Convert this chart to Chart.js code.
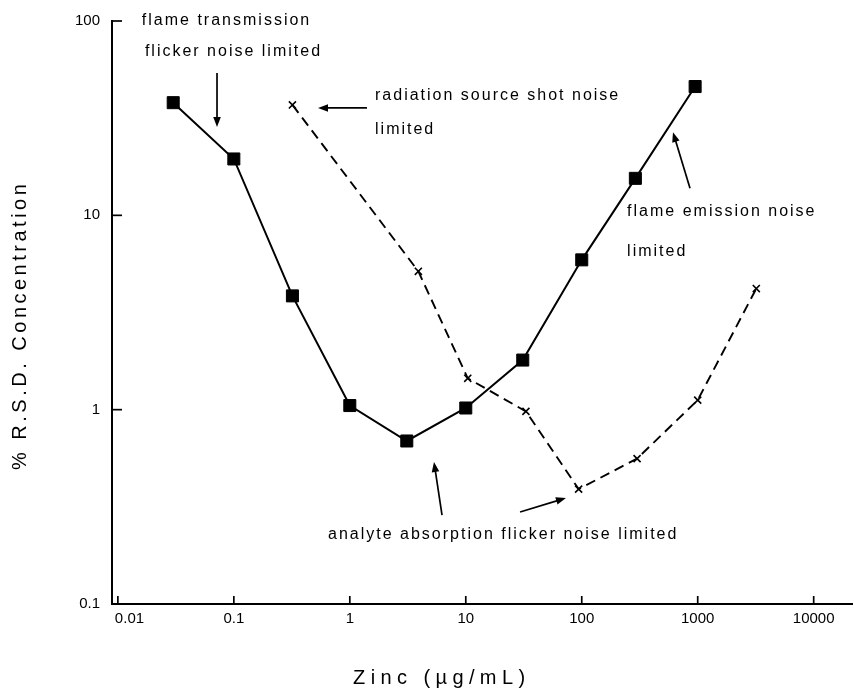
<!DOCTYPE html>
<html>
<head>
<meta charset="utf-8">
<script src="https://cdn.jsdelivr.net/npm/chart.js@4.4.1/dist/chart.umd.min.js"></script>
<style>
  html, body { margin: 0; padding: 0; background: #fff; }
  #wrap { width: 854px; height: 693px; }
</style>
</head>
<body>
<div id="wrap"><canvas id="rsd" width="854" height="693"></canvas></div>
<script>
// Zinc concentration (µg/mL) and relative standard deviation (%)
const zincSquares = [0.03, 0.1, 0.32, 1, 3.1, 10, 31, 100, 290, 950];
const rsdSquares  = [38, 19.5, 3.85, 1.05, 0.69, 1.02, 1.8, 5.9, 15.5, 46];
const zincCrosses = [0.32, 3.9, 10.4, 33, 94, 300, 1000, 3200];
const rsdCrosses  = [37, 5.15, 1.45, 0.98, 0.39, 0.56, 1.12, 4.2];

const xTickValues = [0.01, 0.1, 1, 10, 100, 1000, 10000];
const xTickLabels = ['0.01', '0.1', '1', '10', '100', '1000', '10000'];
const yTickValues = [0.1, 1, 10, 100];
const yTickLabels = ['0.1', '1', '10', '100'];

const xTitle = 'Zinc (\u00b5g/mL)';
const yTitle = '% R.S.D. Concentration';

// Callout texts, anchored in data units (left edge, vertical middle)
const notes = [
  { text: 'flame transmission',          x: 0.0161, y: 101 },
  { text: 'flicker noise limited',       x: 0.0171, y: 69.3 },
  { text: 'radiation source shot noise', x: 1.65,   y: 41.1 },
  { text: 'limited',                     x: 1.65,   y: 27.5 },
  { text: 'flame emission noise',        x: 246,    y: 10.4 },
  { text: 'limited',                     x: 246,    y: 6.48 },
  { text: 'analyte absorption flicker noise limited', x: 0.649, y: 0.2265 }
];

// Pointer arrows, tail -> head, in data units
const arrows = [
  { from: [0.0716, 54.0], to: [0.0716, 28.5] },
  { from: [1.406, 35.7],  to: [0.532, 35.7] },
  { from: [858, 13.8],    to: [612, 26.8] },
  { from: [6.24, 0.287],  to: [5.32, 0.538] },
  { from: [29.4, 0.2975], to: [73.1, 0.351] }
];

const FONT = '"Liberation Sans", Arial, sans-serif';

function spacedText(ctx, text, x, y, spacing, align) {
  const chars = Array.from(text);
  const widths = chars.map(c => ctx.measureText(c).width);
  const total = widths.reduce((a, b) => a + b, 0) + spacing * (chars.length - 1);
  let cx = x;
  if (align === 'center') cx = x - total / 2;
  else if (align === 'right') cx = x - total;
  const saved = ctx.textAlign;
  ctx.textAlign = 'left';
  chars.forEach((c, i) => { ctx.fillText(c, cx, y); cx += widths[i] + spacing; });
  ctx.textAlign = saved;
}

function arrow(ctx, x1, y1, x2, y2) {
  const ang = Math.atan2(y2 - y1, x2 - x1);
  const len = 10, half = 3.8;
  ctx.beginPath();
  ctx.moveTo(x1, y1);
  ctx.lineTo(x2 - Math.cos(ang) * (len - 2), y2 - Math.sin(ang) * (len - 2));
  ctx.stroke();
  ctx.beginPath();
  ctx.moveTo(x2, y2);
  ctx.lineTo(x2 - Math.cos(ang) * len - Math.sin(ang) * half, y2 - Math.sin(ang) * len + Math.cos(ang) * half);
  ctx.lineTo(x2 - Math.cos(ang) * len + Math.sin(ang) * half, y2 - Math.sin(ang) * len - Math.cos(ang) * half);
  ctx.closePath();
  ctx.fill();
}

const decorations = {
  id: 'decorations',
  afterDraw(chart) {
    const { ctx, chartArea: area, scales: { x, y } } = chart;
    ctx.save();
    ctx.strokeStyle = '#000';
    ctx.fillStyle = '#000';
    ctx.lineWidth = 1.7;

    // inward tick marks
    xTickValues.forEach(v => {
      const px = x.getPixelForValue(v);
      ctx.beginPath(); ctx.moveTo(px, area.bottom); ctx.lineTo(px, area.bottom - 8); ctx.stroke();
    });
    yTickValues.forEach(v => {
      const py = y.getPixelForValue(v);
      ctx.beginPath(); ctx.moveTo(area.left, py); ctx.lineTo(area.left + 10, py); ctx.stroke();
    });

    // tick labels
    ctx.font = '15px ' + FONT;
    ctx.textBaseline = 'top';
    xTickValues.forEach((v, i) => {
      const px = x.getPixelForValue(v);
      if (i === 0) spacedText(ctx, xTickLabels[i], px - 3, area.bottom + 7, 0, 'left');
      else spacedText(ctx, xTickLabels[i], px, area.bottom + 7, 0, 'center');
    });
    ctx.textBaseline = 'middle';
    yTickValues.forEach((v, i) => {
      const py = y.getPixelForValue(v);
      spacedText(ctx, yTickLabels[i], area.left - 12, py, 0, 'right');
    });

    // callouts
    ctx.font = '16px ' + FONT;
    notes.forEach(n => {
      spacedText(ctx, n.text, x.getPixelForValue(n.x), y.getPixelForValue(n.y), 2, 'left');
    });
    ctx.lineWidth = 1.7;
    arrows.forEach(a => {
      arrow(ctx,
        x.getPixelForValue(a.from[0]), y.getPixelForValue(a.from[1]),
        x.getPixelForValue(a.to[0]), y.getPixelForValue(a.to[1]));
    });

    // axis titles
    ctx.font = '20px ' + FONT;
    ctx.textBaseline = 'middle';
    spacedText(ctx, xTitle, area.left + (area.right - area.left) * 0.442, area.bottom + 74, 5.4, 'center');
    ctx.save();
    ctx.translate(20, area.top + (area.bottom - area.top) * 0.525);
    ctx.rotate(-Math.PI / 2);
    spacedText(ctx, yTitle, 0, 0, 3.5, 'center');
    ctx.restore();

    ctx.restore();
  }
};

new Chart(document.getElementById('rsd'), {
  type: 'line',
  data: {
    datasets: [
      {
        label: 'flame',
        data: zincSquares.map((v, i) => ({ x: v, y: rsdSquares[i] })),
        borderColor: '#000',
        backgroundColor: '#000',
        borderWidth: 2,
        pointStyle: 'rect',
        pointRadius: 8.5,
        pointBorderWidth: 1,
        pointBackgroundColor: '#000',
        pointBorderColor: '#000',
        tension: 0
      },
      {
        label: 'source',
        data: zincCrosses.map((v, i) => ({ x: v, y: rsdCrosses[i] })),
        borderColor: '#000',
        backgroundColor: '#000',
        borderWidth: 1.9,
        borderDash: [10, 6],
        pointStyle: 'crossRot',
        pointRadius: 5,
        pointBorderWidth: 1.6,
        pointBorderColor: '#000',
        tension: 0
      }
    ]
  },
  options: {
    responsive: false,
    animation: false,
    devicePixelRatio: 1,
    layout: { autoPadding: false, padding: { left: 0, top: 21, right: 2, bottom: 0 } },
    plugins: { legend: { display: false }, tooltip: { enabled: false } },
    scales: {
      x: {
        type: 'logarithmic',
        min: 0.0089,
        max: 21400,
        grid: { display: false },
        border: { display: true, color: '#000', width: 2 },
        ticks: { display: false },
        afterFit(s) { s.height = 89; }
      },
      y: {
        type: 'logarithmic',
        min: 0.1,
        max: 100,
        grid: { display: false },
        border: { display: true, color: '#000', width: 2 },
        ticks: { display: false },
        afterFit(s) { s.width = 112; }
      }
    }
  },
  plugins: [decorations]
});
</script>
</body>
</html>
